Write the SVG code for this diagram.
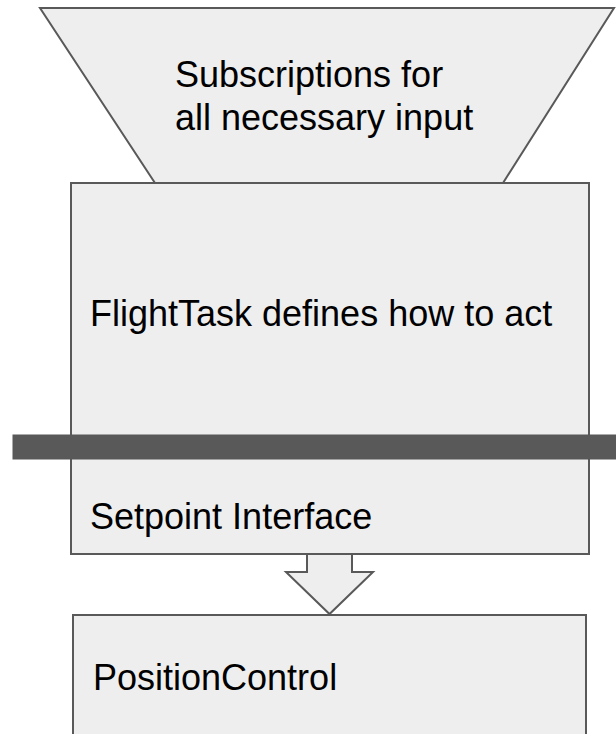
<svg xmlns="http://www.w3.org/2000/svg" width="616" height="734" viewBox="0 0 616 734">
  <style>
    .shape { fill: #eeeeee; stroke: #595959; stroke-width: 2; stroke-linejoin: miter; }
    .bar { fill: #595959; stroke: #595959; stroke-width: 1; }
    .label { font-family: "Liberation Sans", Arial, sans-serif; font-size: 36px; fill: #000000; }
  </style>
  <rect width="616" height="734" fill="#ffffff"/>

  <!-- input funnel -->
  <g id="subscriptions">
    <polygon class="shape" points="40,8 614,8 503,183 155,183"/>
    <text class="label" x="175" y="87">Subscriptions for</text>
    <text class="label" x="175" y="130">all necessary input</text>
  </g>

  <!-- flight task body -->
  <g id="flighttask">
    <rect class="shape" x="71" y="183" width="518" height="371"/>
    <text class="label" x="90" y="326">FlightTask defines how to act</text>
  </g>

  <!-- interface divider -->
  <g id="interface-bar">
    <rect class="bar" x="13" y="435" width="605" height="24"/>
  </g>

  <g id="setpoint-interface">
    <text class="label" x="90" y="529">Setpoint Interface</text>
  </g>

  <!-- hollow block arrow between the two stages -->
  <g id="connectors">
    <polygon class="shape" points="307,554 352,554 352,572 373,572 329.5,614 286,572 307,572"/>
  </g>

  <g id="positioncontrol">
    <rect class="shape" x="73" y="615" width="513" height="130"/>
    <text class="label" x="93" y="690">PositionControl</text>
  </g>
</svg>
